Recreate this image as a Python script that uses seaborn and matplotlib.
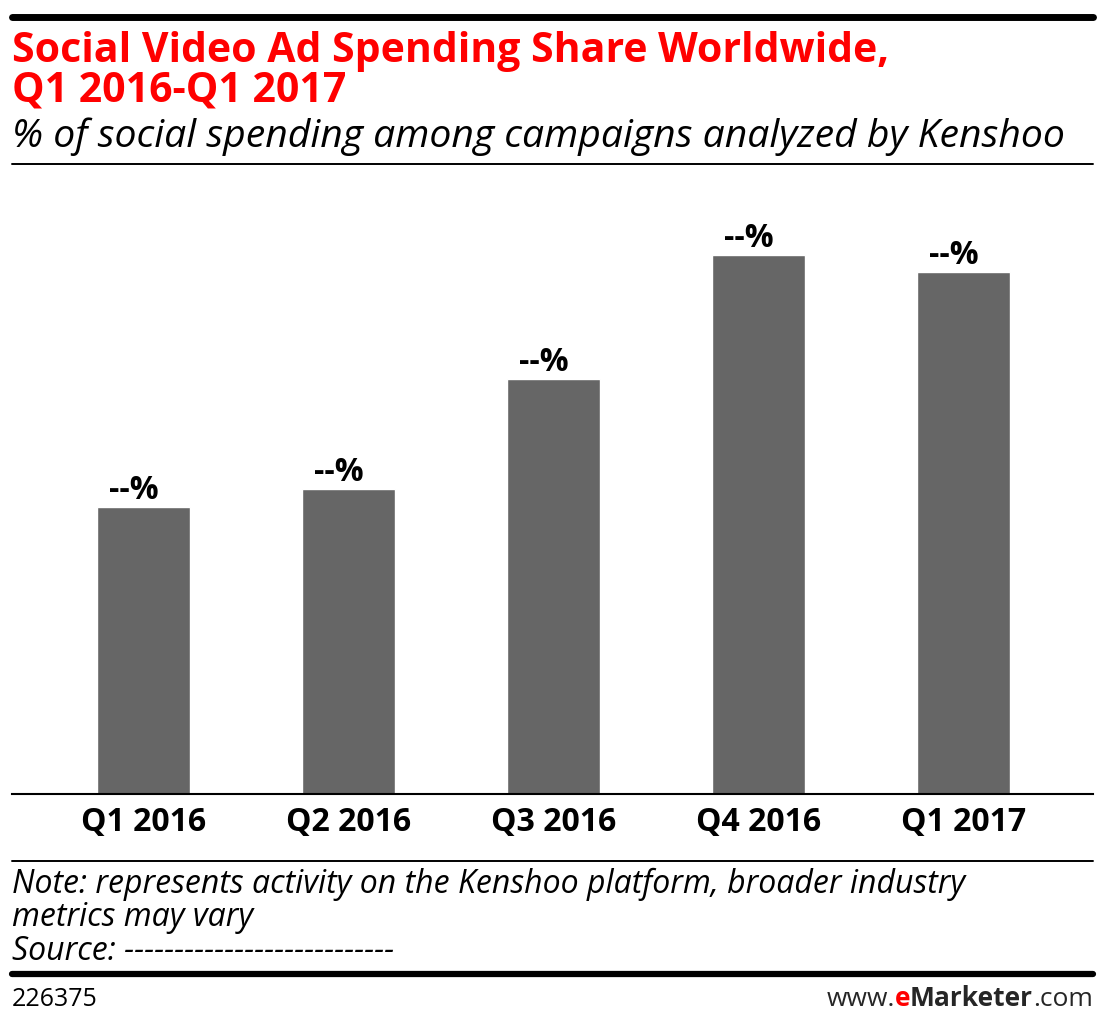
import matplotlib
matplotlib.use("Agg")
import matplotlib.pyplot as plt
from matplotlib.lines import Line2D
import pandas as pd
import seaborn as sns

quarters = ["Q1 2016", "Q2 2016", "Q3 2016", "Q4 2016", "Q1 2017"]
share = [16.0, 17.0, 23.1, 30.0, 29.1]  # real values hidden in the source ("--%")
labels = ["--%", "--%", "--%", "--%", "--%"]

df = pd.DataFrame({"quarter": quarters, "share": share})

sns.set_theme(style="white")
plt.rcParams["font.family"] = ["Open Sans", "DejaVu Sans"]

W, H = 1107, 1026
fig = plt.figure(figsize=(W / 100, H / 100), dpi=100)


def fy(px):
    return 1 - px / H


def fx(px):
    return px / W


ax = fig.add_axes([fx(12), fy(794), fx(1093) - fx(12), fy(180) - fy(794)])
sns.barplot(data=df, x="quarter", y="share", color="#666666", width=0.454,
            saturation=1, ax=ax)

ax.set_xlim(-0.641, 4.632)
ax.set_ylim(0, 34.2)
ax.set_xlabel("")
ax.set_ylabel("")
ax.set_yticks([])
sns.despine(ax=ax, left=True)
ax.spines["bottom"].set_color("black")
ax.spines["bottom"].set_linewidth(1.5)
ax.tick_params(axis="x", length=0, pad=9)
for t in ax.get_xticklabels():
    t.set_fontsize(23)
    t.set_fontweight("bold")
    t.set_color("black")

# labels sit a little left of the bar centre in the original
for i, (v, lab) in enumerate(zip(share, labels)):
    ax.annotate(lab, (i, v), xytext=(-7, 0), textcoords="offset points",
                ha="center", va="bottom", fontsize=23, fontweight="bold",
                color="black")

# header / footer rules
for y, lw in [(16.5, 5), (164, 1.4), (861, 1.4), (974, 4.5)]:
    fig.add_artist(Line2D([fx(12), fx(1093)], [fy(y), fy(y)], color="black",
                          linewidth=lw, transform=fig.transFigure))

fig.text(fx(12), fy(62), "Social Video Ad Spending Share Worldwide,",
         color="#ff0000", fontsize=29.5, fontweight="bold", va="baseline")
fig.text(fx(12), fy(102), "Q1 2016-Q1 2017",
         color="#ff0000", fontsize=29.5, fontweight="bold", va="baseline")
fig.text(fx(12), fy(147), "% of social spending among campaigns analyzed by Kenshoo",
         color="black", fontsize=28.2, style="italic", va="baseline")

fig.text(fx(12), fy(893), "Note: represents activity on the Kenshoo platform, broader industry",
         color="black", fontsize=23, style="italic", va="baseline")
fig.text(fx(12), fy(926), "metrics may vary",
         color="black", fontsize=23, style="italic", va="baseline")
fig.text(fx(12), fy(960), "Source: ---------------------------",
         color="black", fontsize=23, style="italic", va="baseline")

fig.text(fx(12), fy(1006), "226375", color="black", fontsize=18, va="baseline")
# build the url with a red bold "e"
t1 = fig.text(fx(1093), fy(1006), ".com", fontsize=19, va="baseline", ha="right")
fig.canvas.draw()
r = fig.canvas.get_renderer()
x_right = t1.get_window_extent(r).x0
t2 = fig.text(x_right / W, fy(1006), "Marketer", fontsize=19, fontweight="bold",
              va="baseline", ha="right")
x_right = t2.get_window_extent(r).x0
t3 = fig.text(x_right / W, fy(1006), "e", fontsize=19, fontweight="bold",
              color="#ff0000", va="baseline", ha="right")
x_right = t3.get_window_extent(r).x0
fig.text(x_right / W, fy(1006), "www.", fontsize=19, va="baseline", ha="right")

fig.savefig("out.png", dpi=100)
